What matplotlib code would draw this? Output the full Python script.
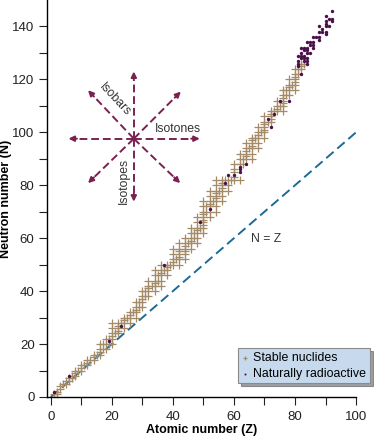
import numpy as np
import matplotlib
matplotlib.use('Agg')
from matplotlib import pyplot as plt

plt.rcParams['font.family'] = ['Liberation Sans', 'DejaVu Sans']

# stable nuclides: atomic number -> neutron numbers
stable_n_by_z = {
    1: [0, 1], 2: [1, 2], 3: [3, 4], 4: [5], 5: [5, 6], 6: [6, 7], 7: [7, 8],
    8: [8, 9, 10], 9: [10], 10: [10, 11, 12], 11: [12], 12: [12, 13, 14],
    13: [14], 14: [14, 15, 16], 15: [16], 16: [16, 17, 18, 20], 17: [18, 20],
    18: [18, 20, 22], 19: [20, 22], 20: [20, 22, 23, 24, 26, 28], 21: [24],
    22: [24, 25, 26, 27, 28], 23: [28], 24: [26, 28, 29, 30], 25: [30],
    26: [28, 30, 31, 32], 27: [32], 28: [30, 32, 33, 34, 36], 29: [34, 36],
    30: [34, 36, 37, 38, 40], 31: [38, 40], 32: [38, 40, 41, 42, 44], 33: [42],
    34: [40, 42, 43, 44, 46, 48], 35: [44, 46], 36: [42, 44, 46, 47, 48, 50],
    37: [48], 38: [46, 48, 49, 50], 39: [50], 40: [50, 51, 52, 54, 56],
    41: [52], 42: [50, 52, 53, 54, 55, 56, 58], 44: [52, 54, 55, 56, 57, 58, 60],
    45: [58], 46: [56, 58, 59, 60, 62, 64], 47: [60, 62],
    48: [58, 60, 62, 63, 64, 66, 68], 49: [64],
    50: [62, 64, 65, 66, 67, 68, 69, 70, 72, 74], 51: [70, 72],
    52: [68, 70, 72, 73, 74, 76, 78], 53: [74],
    54: [70, 72, 74, 75, 76, 77, 78, 80, 82], 55: [78],
    56: [74, 76, 78, 79, 80, 81, 82], 57: [82], 58: [78, 80, 82], 59: [82],
    60: [82, 83, 85, 86, 88], 62: [82, 88, 90, 92], 63: [88, 90],
    64: [90, 91, 92, 93, 94, 96], 65: [94], 66: [90, 92, 94, 95, 96, 97, 98],
    67: [98], 68: [94, 96, 98, 99, 100, 102], 69: [100],
    70: [98, 100, 101, 102, 103, 104, 106], 71: [104],
    72: [104, 105, 106, 107, 108], 73: [108], 74: [108, 109, 110, 112],
    75: [110], 76: [108, 110, 111, 112, 113, 114, 116], 77: [114, 116],
    78: [114, 116, 117, 118, 120], 79: [118],
    80: [116, 118, 119, 120, 121, 122, 124], 81: [122, 124],
    82: [124, 125, 126], 83: [126],
}

# naturally radioactive nuclides
rad_z = [1, 6, 19, 23, 37, 49, 52, 57, 58, 60, 62, 62, 62, 64, 71, 72, 73, 75, 78, 82,
         81, 81, 81, 81, 82, 82, 82, 82, 83, 83, 83, 83, 83,
         84, 84, 84, 84, 84, 84, 84, 85, 85, 85, 86, 86, 86, 86, 87,
         88, 88, 88, 88, 89, 89, 90, 90, 90, 90, 90, 90, 91, 91, 92, 92, 92]
rad_n = [2, 8, 21, 27, 50, 66, 71, 81, 84, 84, 85, 86, 87, 88, 105, 102, 107, 112, 112, 122,
         125, 126, 127, 129, 128, 129, 130, 132, 127, 128, 129, 131, 132,
         126, 127, 128, 130, 131, 132, 134, 130, 133, 134, 132, 133, 134, 136, 136,
         135, 136, 138, 140, 138, 139, 137, 138, 140, 141, 142, 144, 140, 143, 142, 143, 146]

x_ticks = [0, 20, 40, 60, 80, 100]
y_ticks = [0, 20, 40, 60, 80, 100, 120, 140]

stable_z = [z for z, ns in stable_n_by_z.items() for n in ns]
stable_n = [n for z, ns in stable_n_by_z.items() for n in ns]

tan = '#a48b68'
purple = '#4b1049'
arrow_col = '#7a2152'
line_col = '#1d6b95'
text_col = '#333333'

fig = plt.figure(figsize=(3.74, 4.41), dpi=100)
ax = fig.add_axes([0.126, 0.0998, 0.826, 0.9002])

ax.plot([0, 100], [0, 100], linestyle=(0, (5, 2.5)), color=line_col, lw=1.4, zorder=1)
ax.scatter(stable_z, stable_n, marker='+', s=26, c=tan, linewidths=0.9, zorder=2,
           label='Stable nuclides')
ax.scatter(rad_z, rad_n, marker='o', s=6, c=purple, linewidths=0, zorder=3,
           label='Naturally radioactive')

# direction arrows
cx, cy = 27.2, 97.6
ends = [(27.2, 123.0), (27.2, 73.8), (5.8, 97.6), (48.8, 97.6),
        (12.2, 115.9), (42.6, 115.4), (12.2, 80.8), (42.4, 80.8)]
for ex, ey in ends:
    f = 0.87
    mx, my = cx + (ex - cx) * f, cy + (ey - cy) * f
    ax.plot([cx, mx], [cy, my], linestyle=(0, (4, 2)), color=arrow_col, lw=1.4, zorder=4)
    ax.annotate('', xy=(ex, ey), xytext=(mx, my),
                arrowprops=dict(arrowstyle='-|>', color=arrow_col, lw=1.4,
                                mutation_scale=8, shrinkA=0, shrinkB=0), zorder=4)

ax.text(21.0, 112.3, 'Isobars', rotation=-47, ha='center', va='center',
        rotation_mode='anchor', fontsize=8.8, color=text_col)
ax.text(41.6, 101.3, 'Isotones', ha='center', va='center', fontsize=8.8, color=text_col)
ax.text(24.1, 81.5, 'Isotopes', rotation=90, ha='center', va='center',
        fontsize=8.8, color=text_col)
ax.text(70.5, 59.7, 'N = Z', ha='center', va='center', fontsize=8.8, color=text_col)

ax.set_xlim(-1.2, 100)
ax.set_ylim(0, 150)
ax.set_xticks(x_ticks)
ax.set_yticks(y_ticks)
ax.set_xticks(np.arange(10, 100, 20), minor=True)
ax.set_yticks(np.arange(10, 150, 20), minor=True)
ax.tick_params(which='both', direction='out', length=6, width=0.8, labelsize=9.5,
               colors='#222222')
ax.tick_params(axis='x', pad=4)
ax.tick_params(axis='y', pad=3)
for side in ['top', 'right']:
    ax.spines[side].set_visible(False)
for side in ['left', 'bottom']:
    ax.spines[side].set_linewidth(1.0)

ax.set_xlabel('Atomic number (Z)', fontsize=9, fontweight='bold', labelpad=1)
ax.set_ylabel('Neutron number (N)', fontsize=9, fontweight='bold')
ax.yaxis.set_label_coords(-0.115, 0.5)

leg = ax.legend(loc='lower right', bbox_to_anchor=(1.045, 0.034), fontsize=8.9,
                frameon=True, fancybox=False, shadow=True, framealpha=1,
                handlelength=0.5, handletextpad=0.45, borderpad=0.3,
                labelspacing=0.3, borderaxespad=0, markerscale=0.6)
leg.get_frame().set_facecolor('#c7daed')
leg.get_frame().set_edgecolor('#8a8a8a')
leg.get_frame().set_linewidth(0.8)

fig.savefig('out.png', dpi=100)
